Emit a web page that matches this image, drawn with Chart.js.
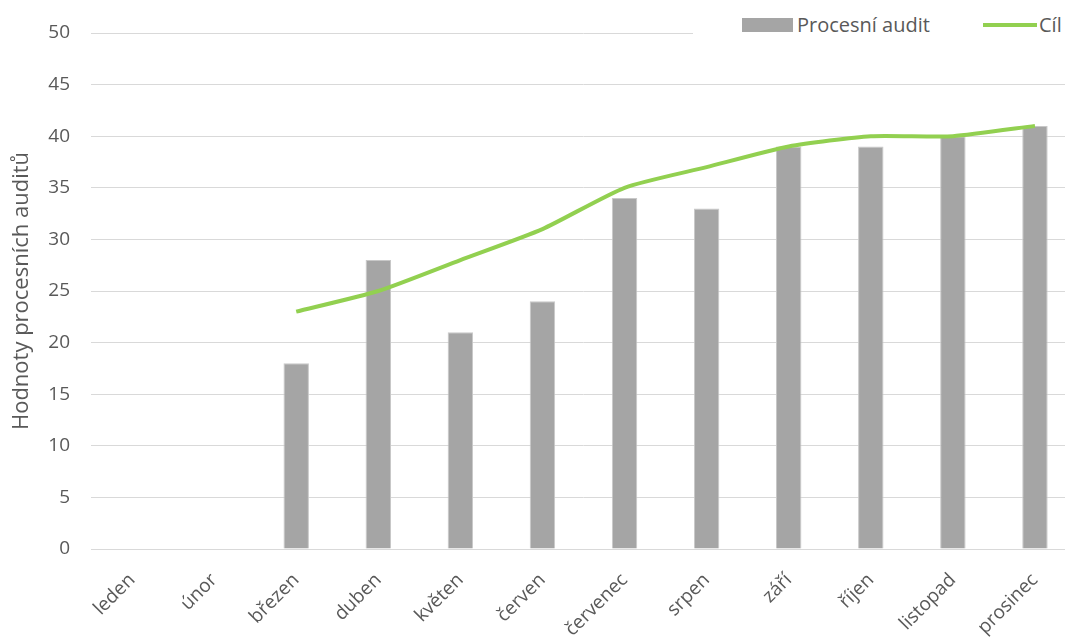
<!DOCTYPE html>
<html lang="cs">
<head>
<meta charset="utf-8">
<script src="https://cdn.jsdelivr.net/npm/chart.js@4/dist/chart.umd.min.js"></script>
<style>
  html, body { margin: 0; padding: 0; background: #fff; overflow: hidden; }
  #wrap { position: relative; width: 1065px; height: 639px; overflow: hidden; }
  #box { position: absolute; left: 0; top: 0; width: 1076px; height: 639px; }
  #legend {
    position: absolute; left: 693px; top: 8px; width: 372px; height: 36px;
    background: #fff; font-family: "Open Sans", "Liberation Sans", sans-serif;
    font-size: 20px; color: #595959;
  }
  .item { position: absolute; top: 4px; line-height: 26px; white-space: nowrap; }
  .swatch { display: inline-block; vertical-align: middle; }
</style>
</head>
<body>
<div id="wrap">
  <div id="box"><canvas id="chart"></canvas></div>
  <div id="legend">
    <div class="item" style="left:49px"><span class="swatch" style="width:51px;height:14px;background:#a5a5a5;margin-right:4px;margin-top:-3px"></span>Procesní audit</div>
    <div class="item" style="left:290px"><span class="swatch" style="width:54px;height:4px;background:#92d050;margin-right:2px;margin-top:-3px"></span>Cíl</div>
  </div>
</div>
<script>
// Data
const months = ['leden', 'únor', 'březen', 'duben', 'květen', 'červen', 'červenec', 'srpen', 'září', 'říjen', 'listopad', 'prosinec'];
const auditValues = [null, null, 18, 28, 21, 24, 34, 33, 39, 39, 40, 41];
const targetValues = [null, null, 23, 25, 28, 31, 35, 37, 39, 40, 40, 41];
const yTicks = [0, 5, 10, 15, 20, 25, 30, 35, 40, 45, 50];

const font = "'Open Sans', 'Liberation Sans', sans-serif";
const textColor = '#595959';

new Chart(document.getElementById('chart'), {
  data: {
    labels: months,
    datasets: [
      {
        type: 'line',
        label: 'Cíl',
        data: targetValues,
        borderColor: '#92d050',
        borderWidth: 4,
        pointRadius: 0,
        tension: 0.2,
        order: 0
      },
      {
        type: 'bar',
        label: 'Procesní audit',
        data: auditValues,
        backgroundColor: '#a5a5a5',
        borderColor: '#c8c8c8',
        borderWidth: 1,
        barPercentage: 0.31,
        categoryPercentage: 1,
        order: 1
      }
    ]
  },
  options: {
    responsive: true,
    maintainAspectRatio: false,
    animation: false,
    layout: { padding: { top: 33, right: 0, left: 0, bottom: 0 } },
    plugins: {
      legend: { display: false },
      tooltip: { enabled: false }
    },
    scales: {
      x: {
        grid: { display: false },
        border: { color: '#d9d9d9', width: 1 },
        ticks: {
          color: textColor,
          font: { family: font, size: 19 },
          maxRotation: 45,
          minRotation: 45,
          padding: 12
        },
        afterFit: s => { s.height = 90; }
      },
      y: {
        min: 0,
        max: 50,
        afterBuildTicks: s => { s.ticks = yTicks.map(v => ({ value: v })); },
        grid: { color: '#d9d9d9', lineWidth: 1, drawTicks: false },
        border: { display: false },
        ticks: {
          color: textColor,
          font: { family: font, size: 19 },
          padding: 21
        },
        title: {
          display: true,
          text: 'Hodnoty procesních auditů',
          color: textColor,
          font: { family: font, size: 22 },
          padding: { top: 9, bottom: 4 }
        },
        afterFit: s => { s.width = 91; }
      }
    }
  }
});
</script>
</body>
</html>
